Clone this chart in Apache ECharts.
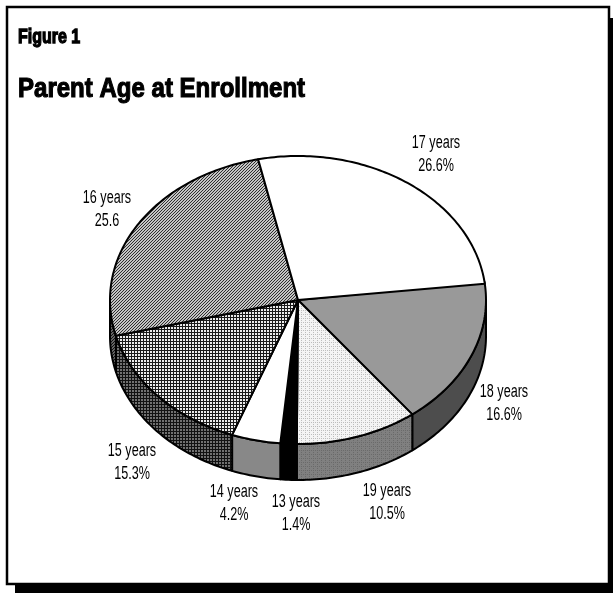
<!DOCTYPE html>
<html>
<head>
<meta charset="utf-8">
<title>Parent Age at Enrollment</title>
<script src="https://cdn.jsdelivr.net/npm/echarts@6/dist/echarts.min.js"></script>
<style>
  html, body { margin: 0; padding: 0; background: #fff; }
  #chart { width: 613px; height: 593px; }
</style>
</head>
<body>
<div id="chart"></div>
<script>
// clockwise from the 17/18 years edge
var ages = ['18 years', '19 years', '13 years', '14 years', '15 years', '16 years', '17 years'];
var percents = [16.6, 10.5, 1.4, 4.2, 15.3, 25.6, 26.6];
var percentLabels = ['16.6%', '10.5%', '1.4%', '4.2%', '15.3%', '25.6', '26.6%'];

// pie geometry
var cx = 298, cy = 300, rx = 188, ry = 144, depth = 36, startAngle = 7.2;
// label centres, same order as ages
var labelPos = [[504, 404], [387, 503], [296, 514], [234, 504], [132, 463], [107, 210], [436, 155]];

function pattern(size, paint) {
  var c = document.createElement('canvas');
  c.width = c.height = size;
  paint(c.getContext('2d'));
  return { image: c, repeat: 'repeat' };
}
function hatch(bg, fg) {
  return pattern(3, function(g) {
    g.fillStyle = bg; g.fillRect(0, 0, 3, 3);
    g.fillStyle = fg;
    for (var i = 0; i < 3; i++) g.fillRect(2 - i, i, 1, 1);
  });
}
function check(bg, fg) {
  return pattern(3, function(g) {
    g.fillStyle = bg; g.fillRect(0, 0, 3, 3);
    g.fillStyle = fg; g.fillRect(2, 0, 1, 3); g.fillRect(0, 2, 3, 1);
  });
}
function stripes(bg, fg) {
  return pattern(4, function(g) {
    g.fillStyle = bg; g.fillRect(0, 0, 4, 4);
    g.fillStyle = fg; g.fillRect(1, 0, 1, 1); g.fillRect(3, 2, 1, 1); g.fillRect(1, 2, 1, 1);
  });
}

var topFills = ['#999999', stripes('#f4f4f4', '#bdbdbd'), '#000000', '#ffffff',
  check('#ececec', '#1a1a1a'), hatch('#c4c4c4', '#2e2e2e'), '#ffffff'];
var sideFills = ['#4d4d4d', stripes('#808080', '#6a6a6a'), '#000000', '#888888',
  check('#707070', '#111111'), hatch('#666666', '#111111'), '#ffffff'];

function sliceAngles(i) {
  var a = startAngle;
  for (var k = 0; k < i; k++) a -= percents[k] * 3.6;
  return [a, a - percents[i] * 3.6];
}
function onEllipse(deg, dy) {
  var t = deg * Math.PI / 180;
  return [cx + rx * Math.cos(t), cy - ry * Math.sin(t) + dy];
}
function arcPoints(from, to, dy) {
  var pts = [], n = Math.max(2, Math.ceil(Math.abs(from - to)));
  for (var j = 0; j <= n; j++) pts.push(onEllipse(from + (to - from) * j / n, dy));
  return pts;
}

function renderSide(params, api) {
  var a = sliceAngles(params.dataIndex);
  // only the front half of the rim shows: -180 to 0 degrees
  var from = Math.min(a[0], 0), to = Math.max(a[1], -180);
  if (from <= to) return null;
  var pts = arcPoints(from, to, 0).concat(arcPoints(to, from, depth));
  return {
    type: 'polygon',
    shape: { points: pts },
    style: { fill: sideFills[params.dataIndex], stroke: '#000', lineWidth: 2, lineJoin: 'round' }
  };
}
function renderTop(params, api) {
  var a = sliceAngles(params.dataIndex);
  var pts = [[cx, cy]].concat(arcPoints(a[0], a[1], 0));
  return {
    type: 'polygon',
    shape: { points: pts },
    style: { fill: topFills[params.dataIndex], stroke: '#000', lineWidth: 2, lineJoin: 'round' }
  };
}
function renderLabel(params, api) {
  var p = labelPos[params.dataIndex];
  return {
    type: 'text',
    x: p[0], y: p[1],
    scaleX: 0.7,
    style: {
      text: ages[params.dataIndex] + '\n' + percentLabels[params.dataIndex],
      fill: '#000',
      font: '18px "Liberation Sans", sans-serif',
      lineHeight: 23,
      align: 'center',
      verticalAlign: 'middle'
    }
  };
}

var myChart = echarts.init(document.getElementById('chart'), null, { renderer: 'canvas' });
myChart.setOption({
  animation: false,
  backgroundColor: '#fff',
  graphic: [
    { type: 'rect', z: -10, shape: { x: 15, y: 18, width: 598, height: 575 }, style: { fill: '#000' } },
    { type: 'rect', z: -9, shape: { x: 7, y: 7, width: 602, height: 577 }, style: { fill: '#fff', stroke: '#000', lineWidth: 2.5 } },
    { type: 'text', z: 5, x: 18, y: 37, scaleX: 0.8, style: { text: 'Figure 1', fill: '#000', stroke: '#000', lineWidth: 1.3, font: 'bold 20px "Liberation Sans", sans-serif', verticalAlign: 'middle' } },
    { type: 'text', z: 5, x: 18, y: 90, scaleX: 0.89, style: { text: 'Parent Age at Enrollment', fill: '#000', stroke: '#000', lineWidth: 1.1, font: 'bold 27px "Liberation Sans", sans-serif', verticalAlign: 'middle' } }
  ],
  series: [
    { type: 'custom', coordinateSystem: 'none', silent: true, z: 1, renderItem: renderSide, data: percents },
    { type: 'custom', coordinateSystem: 'none', silent: true, z: 2, renderItem: renderTop, data: percents },
    { type: 'custom', coordinateSystem: 'none', silent: true, z: 3, renderItem: renderLabel, data: percents }
  ]
});
</script>
</body>
</html>
